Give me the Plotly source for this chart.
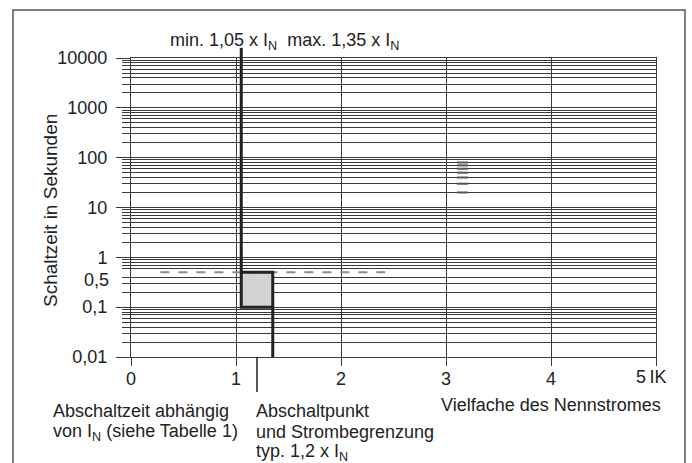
import plotly.graph_objects as go

# --- data -------------------------------------------------------------
x_ticks = [0, 1, 2, 3, 4, 5]
x_ticktext = ["0", "1", "2", "3", "4", ""]
y_major = [0.01, 0.1, 1, 10, 100, 1000, 10000]
y_major_text = ["0,01", "0,1", "1", "10", "100", "1000", "10000"]
# log grid: 1..9 x 10^k, the 0.5 line is drawn separately as a dashed mark
y_grid = [m * 10 ** k for k in range(-2, 4) for m in range(1, 10) if not (k == -1 and m == 5)] + [10000]

i_min = 1.05          # min. 1,05 x IN
i_max = 1.35          # max. 1,35 x IN
i_typ = 1.2           # typ. 1,2 x IN
t_low = 0.1           # Abschaltzeit untere Grenze (s)
t_high = 0.5          # Abschaltzeit obere Grenze (s)
t_min = 0.01

dash_x = [0.28, 2.42]
dash_y = [0.5, 0.5]

mark_x = [3.105, 3.21]
mark_y = [20, 30, 40, 50, 60, 70, 80]

FONT = "Liberation Sans, Arial, Helvetica, sans-serif"
INK = "#222222"
GRID = "#3a3a3a"

fig = go.Figure()

# shaded switching band between min and max current
fig.add_trace(go.Scatter(
    x=[i_min, i_max, i_max, i_min, i_min],
    y=[t_low, t_low, t_high, t_high, t_low],
    fill="toself", fillcolor="#d3d3d3", mode="lines",
    line=dict(width=0), hoverinfo="skip", showlegend=False))

# dashed 0,5 s reference line
fig.add_trace(go.Scatter(
    x=dash_x, y=dash_y, mode="lines",
    line=dict(color="#8a8a8a", width=2, dash="dash"),
    hoverinfo="skip", showlegend=False))

# short darker strokes on the grid at about 3,1 x IN
sx, sy = [], []
for v in mark_y:
    sx += [mark_x[0], mark_x[1], None]
    sy += [v, v, None]
fig.add_trace(go.Scatter(x=sx, y=sy, mode="lines",
                         line=dict(color="#555555", width=2),
                         hoverinfo="skip", showlegend=False))

# characteristic: min. current limit down to 0,1 s, band edges, max. current down to 0,01 s
fig.add_trace(go.Scatter(
    x=[i_min, i_min, i_max, None, i_min, i_max, i_max],
    y=[10000, t_low, t_low, None, t_high, t_high, t_min],
    mode="lines", line=dict(color=INK, width=3),
    hoverinfo="skip", showlegend=False))

shapes = [
    # min. line continues above the diagram
    dict(type="line", xref="x", yref="paper", x0=i_min, x1=i_min, y0=1, y1=1.034,
         line=dict(color=INK, width=3)),
    # typical switching point marker below the axis
    dict(type="line", xref="x", yref="paper", x0=i_typ, x1=i_typ, y0=0, y1=-0.117,
         line=dict(color=INK, width=1.5)),
    # outer frame
    dict(type="rect", xref="paper", yref="paper", x0=-0.2248, x1=1.0552, y0=-0.40, y1=1.1605,
         line=dict(color="#555555", width=1.5), fillcolor="rgba(0,0,0,0)", layer="below"),
]

tf = dict(family=FONT, size=18, color=INK)


def px(xp):
    return (xp - 131) / 525


def py(yp):
    return (357 - yp) / 299


annotations = [
    dict(text="Schaltzeit in Sekunden", xref="paper", yref="paper", x=px(50), y=py(211),
         xanchor="center", yanchor="middle", textangle=-90, showarrow=False,
         font=dict(family=FONT, size=19, color=INK)),
    dict(text="min. 1,05 x I<sub>N</sub>&nbsp;&nbsp;max. 1,35 x I<sub>N</sub>",
         xref="paper", yref="paper", x=px(168), y=py(41), xanchor="left", yanchor="middle",
         showarrow=False, font=tf),
    dict(text="0,5", xref="paper", yref="paper", x=px(111), y=py(280),
         xanchor="right", yanchor="middle", showarrow=False, font=tf),
    dict(text="5\u2009IK", xref="paper", yref="paper", x=px(651), y=py(377),
         xanchor="center", yanchor="middle", showarrow=False, font=tf),
    dict(text="Vielfache des Nennstromes", xref="paper", yref="paper", x=px(439), y=py(405),
         xanchor="left", yanchor="middle", showarrow=False, font=tf),
    dict(text="Abschaltzeit abhängig", xref="paper", yref="paper", x=px(51), y=py(411),
         xanchor="left", yanchor="middle", showarrow=False, font=tf),
    dict(text="von I<sub>N</sub> (siehe Tabelle 1)", xref="paper", yref="paper", x=px(51), y=py(432),
         xanchor="left", yanchor="middle", showarrow=False, font=tf),
    dict(text="Abschaltpunkt", xref="paper", yref="paper", x=px(254), y=py(411),
         xanchor="left", yanchor="middle", showarrow=False, font=tf),
    dict(text="und Strombegrenzung", xref="paper", yref="paper", x=px(254), y=py(432),
         xanchor="left", yanchor="middle", showarrow=False, font=tf),
    dict(text="typ. 1,2 x I<sub>N</sub>", xref="paper", yref="paper", x=px(254), y=py(452),
         xanchor="left", yanchor="middle", showarrow=False, font=tf),
]

fig.update_layout(
    width=692, height=463,
    margin=dict(l=131, r=36, t=58, b=106, pad=0),
    paper_bgcolor="white", plot_bgcolor="white",
    font=tf,
    shapes=shapes, annotations=annotations,
    xaxis=dict(
        range=[0, 5], tickmode="array", tickvals=x_ticks, ticktext=x_ticktext,
        showgrid=True, gridcolor=GRID, gridwidth=1, zeroline=False,
        showline=True, linecolor=GRID, linewidth=1, mirror=True,
        ticks="outside", ticklen=8, tickcolor=GRID, tickfont=tf,
        ticklabelstandoff=-3,
    ),
    yaxis=dict(
        type="log", range=[-2, 4], tickmode="array", tickvals=y_major, ticktext=y_major_text,
        showgrid=False, zeroline=False,
        showline=True, linecolor=GRID, linewidth=1, mirror=True,
        ticks="outside", ticklen=14, tickcolor=GRID, tickfont=tf,
        ticklabelstandoff=5,
        minor=dict(tickmode="array", tickvals=y_grid, ticks="outside", ticklen=8,
                   tickcolor=GRID, showgrid=True, gridcolor=GRID, gridwidth=1),
    ),
)

fig.write_html("out.html")
